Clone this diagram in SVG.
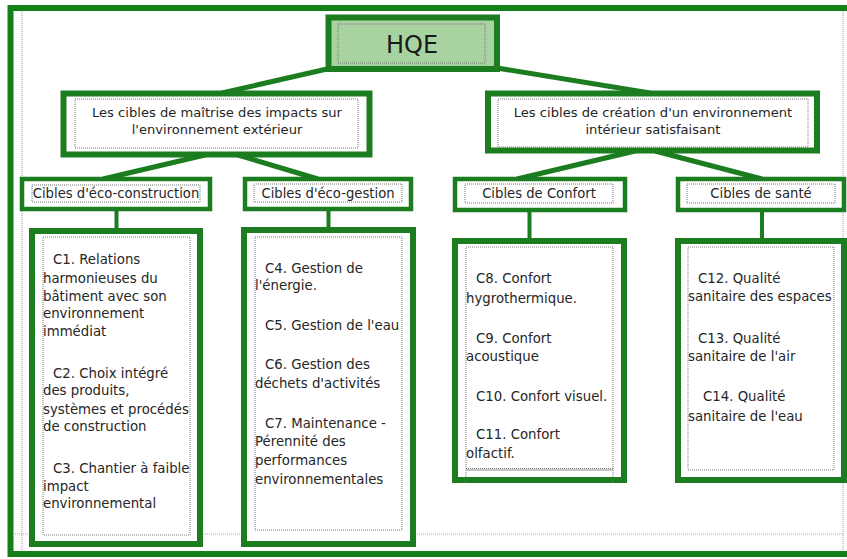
<svg xmlns="http://www.w3.org/2000/svg" width="847" height="559" viewBox="0 0 847 559">
<style>
.frame{fill:none;stroke:#14801a;stroke-width:6}
.g6{fill:#fff;stroke:#1b7d1f;stroke-width:6}
.g4{fill:#fff;stroke:#1b7d1f;stroke-width:4.5}
.dot{fill:none;stroke:#777;stroke-width:1;stroke-dasharray:1 1}
.guide{fill:none;stroke:#aaa;stroke-width:1.2;stroke-dasharray:1 1}
.con{stroke:#1b7d1f;stroke-width:5;fill:none}
.conv{stroke:#1b7d1f;stroke-width:4;fill:none}
text{font-family:"DejaVu Sans","Verdana",sans-serif;fill:#262626}
.t{font-size:13.3px}
.lbl{font-size:13.2px;text-anchor:middle}
.l2{font-size:13.1px;text-anchor:middle}
.hqe{font-size:24px;text-anchor:middle;fill:#1a1a1a}
</style>
<rect x="0" y="0" width="847" height="559" fill="#fff"/>
<g id="frame">
<rect class="frame" x="10.5" y="8" width="845" height="546"/>
<line class="guide" x1="22" y1="11" x2="22" y2="551"/>
<line class="guide" x1="843" y1="11" x2="843" y2="551"/>
<line class="guide" x1="13" y1="534" x2="843" y2="534"/>
</g>
<g id="connectors">
<line class="con" x1="327" y1="69" x2="222" y2="93"/>
<line class="con" x1="497" y1="68" x2="650" y2="93"/>
<line class="con" x1="205" y1="155" x2="103" y2="179"/>
<line class="con" x1="238" y1="155" x2="318" y2="179"/>
<line class="con" x1="635" y1="151" x2="517" y2="179"/>
<line class="con" x1="655" y1="151" x2="762" y2="179"/>
<line class="conv" x1="116.5" y1="209" x2="116.5" y2="230"/>
<line class="conv" x1="328.5" y1="209" x2="328.5" y2="230"/>
<line class="conv" x1="529.5" y1="210" x2="529.5" y2="241"/>
<line class="conv" x1="762" y1="210" x2="762" y2="241"/>
</g>
<g id="hqe">
<rect x="328.5" y="17.5" width="168.5" height="51.5" fill="#a8d3a0" stroke="#1b7d1f" stroke-width="6"/>
<rect class="dot" x="338" y="24" width="147" height="39"/>
<text class="hqe" x="412" y="53">HQE</text>
</g>
<g id="impacts-ext">
<rect class="g6" x="63.5" y="93.5" width="306" height="61"/>
<rect class="dot" x="75" y="99" width="283" height="49"/>
<text class="l2" x="217" y="117">Les cibles de maîtrise des impacts sur</text>
<text class="l2" x="217" y="134">l'environnement extérieur</text>
</g>
<g id="env-int">
<rect class="g6" x="488" y="93.5" width="329" height="57"/>
<rect class="dot" x="498" y="99" width="310" height="48"/>
<text class="l2" x="653" y="117">Les cibles de création d'un environnement</text>
<text class="l2" x="653" y="134">intérieur satisfaisant</text>
</g>
<g id="eco-construction">
<rect class="g4" x="22" y="179" width="188" height="30"/>
<rect class="dot" x="32" y="185" width="168" height="17"/>
<text class="lbl" x="116" y="198">Cibles d'éco-construction</text>
</g>
<g id="eco-gestion">
<rect class="g4" x="245" y="179" width="166" height="30"/>
<rect class="dot" x="254" y="184" width="148" height="18"/>
<text class="lbl" x="328" y="198">Cibles d'éco-gestion</text>
</g>
<g id="confort">
<rect class="g4" x="455" y="179" width="170" height="31"/>
<rect class="dot" x="465" y="184" width="148" height="19"/>
<text class="lbl" x="539" y="198">Cibles de Confort</text>
</g>
<g id="sante">
<rect class="g4" x="678" y="179" width="166" height="31"/>
<rect class="dot" x="687" y="184" width="148" height="19"/>
<text class="lbl" x="761" y="198">Cibles de santé</text>
</g>
<g id="list-construction">
<rect class="g6" x="32" y="231" width="168" height="313"/>
<rect class="dot" x="43" y="237" width="147" height="298"/>
<text class="t" x="53" y="264">C1. Relations</text>
<text class="t" x="43" y="283">harmonieuses du</text>
<text class="t" x="43" y="301">bâtiment avec son</text>
<text class="t" x="43" y="318">environnement</text>
<text class="t" x="43" y="336">immédiat</text>
<text class="t" x="53" y="378">C2. Choix intégré</text>
<text class="t" x="43" y="395">des produits,</text>
<text class="t" x="43" y="414">systèmes et procédés</text>
<text class="t" x="43" y="431">de construction</text>
<text class="t" x="53" y="473">C3. Chantier à faible</text>
<text class="t" x="43" y="491">impact</text>
<text class="t" x="43" y="508">environnemental</text>
</g>
<g id="list-gestion">
<rect class="g6" x="244" y="230" width="169" height="314"/>
<rect class="dot" x="255" y="237" width="147" height="293"/>
<text class="t" x="265" y="273">C4. Gestion de</text>
<text class="t" x="255" y="290">l'énergie.</text>
<text class="t" x="265" y="330">C5. Gestion de l'eau</text>
<text class="t" x="265" y="369">C6. Gestion des</text>
<text class="t" x="255" y="388">déchets d'activités</text>
<text class="t" x="265" y="428">C7. Maintenance -</text>
<text class="t" x="255" y="446">Pérennité des</text>
<text class="t" x="255" y="465">performances</text>
<text class="t" x="255" y="484">environnementales</text>
</g>
<g id="list-confort">
<rect class="g6" x="455" y="241" width="169" height="239"/>
<path class="dot" d="M466 483V247H613V483M466 468.5H613"/>
<line x1="466" y1="470" x2="613" y2="470" stroke="#888" stroke-width="1"/>
<text class="t" x="476" y="283">C8. Confort</text>
<text class="t" x="466" y="303">hygrothermique.</text>
<text class="t" x="476" y="343">C9. Confort</text>
<text class="t" x="466" y="361">acoustique</text>
<text class="t" x="476" y="401">C10. Confort visuel.</text>
<text class="t" x="476" y="439">C11. Confort</text>
<text class="t" x="466" y="458">olfactif.</text>
</g>
<g id="list-sante">
<rect class="g6" x="678" y="241" width="166" height="239"/>
<rect class="dot" x="688" y="247" width="146" height="223"/>
<text class="t" x="698" y="283">C12. Qualité</text>
<text class="t" x="688" y="301">sanitaire des espaces</text>
<text class="t" x="698" y="343">C13. Qualité</text>
<text class="t" x="688" y="361">sanitaire de l'air</text>
<text class="t" x="703" y="401">C14. Qualité</text>
<text class="t" x="688" y="421">sanitaire de l'eau</text>
</g>
</svg>
